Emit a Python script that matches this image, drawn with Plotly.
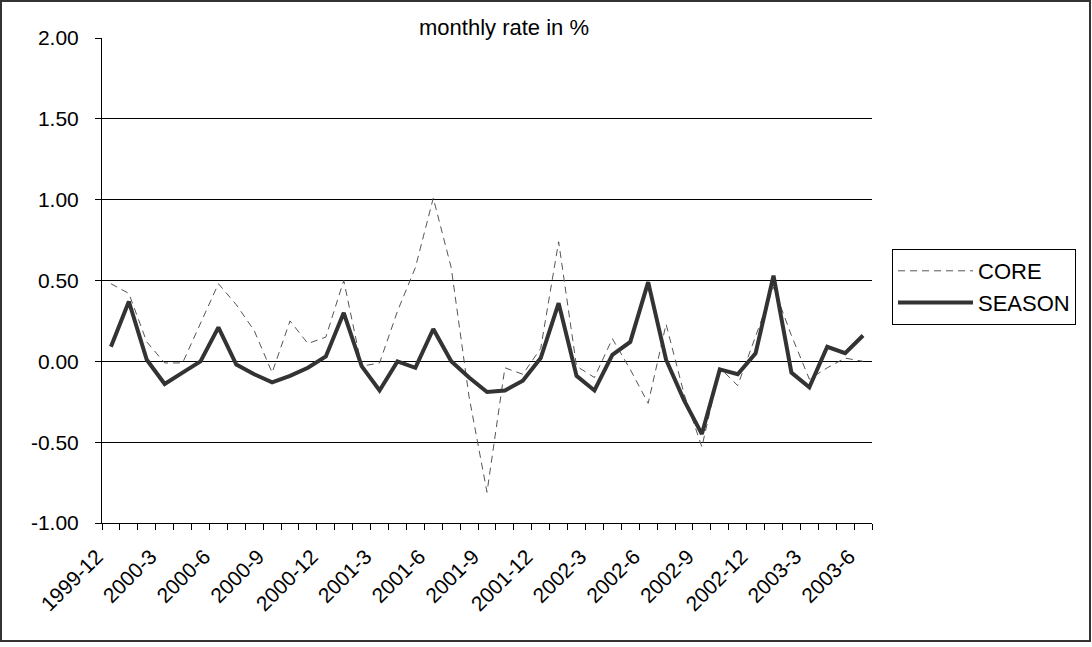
import plotly.graph_objects as go

months = ["1999-12"] + [f"{y}-{m}" for y in (2000, 2001, 2002) for m in range(1, 13)] + [f"2003-{m}" for m in range(1, 7)]

core = [0.48, 0.42, 0.12, -0.01, -0.01, 0.24, 0.48, 0.35, 0.19, -0.07,
        0.25, 0.11, 0.15, 0.50, -0.03, -0.01, 0.31, 0.58, 1.01, 0.58,
        -0.22, -0.81, -0.04, -0.08, 0.08, 0.74, -0.03, -0.10, 0.14, -0.05,
        -0.26, 0.23, -0.20, -0.53, -0.04, -0.15, 0.16, 0.46, 0.16, -0.11,
        -0.04, 0.02, 0.00]

season = [0.09, 0.37, 0.01, -0.14, -0.07, 0.00, 0.21, -0.02, -0.08, -0.13,
          -0.09, -0.04, 0.03, 0.30, -0.03, -0.18, 0.00, -0.04, 0.20, 0.00,
          -0.10, -0.19, -0.18, -0.12, 0.02, 0.36, -0.09, -0.18, 0.04, 0.12,
          0.49, 0.01, -0.24, -0.45, -0.05, -0.08, 0.05, 0.53, -0.07, -0.16,
          0.09, 0.05, 0.16]

title_text = "monthly rate in %"
y_ticks = [-1.0, -0.5, 0.0, 0.5, 1.0, 1.5, 2.0]
y_tick_text = [f"{v:.2f}" for v in y_ticks]

idx = list(range(len(months)))
label_idx = idx[::3]
label_txt = [months[i] for i in label_idx]

FONT = "Liberation Sans, Arial, sans-serif"
W, H = 1092, 647
L, R, T, B = 102, 220, 38, 124
pw, ph = W - L - R, H - T - B

fig = go.Figure()
fig.add_trace(go.Scatter(x=idx, y=core, name="CORE", mode="lines",
                         line=dict(color="#555555", width=1, dash="7px,5px")))
fig.add_trace(go.Scatter(x=idx, y=season, name="SEASON", mode="lines",
                         line=dict(color="#333333", width=4)))

fig.update_layout(
    width=W, height=H,
    margin=dict(l=L, r=R, t=T, b=B, pad=0),
    paper_bgcolor="white", plot_bgcolor="white",
    font=dict(family=FONT, size=21, color="black"),
    title=dict(text=title_text, x=504 / W, xanchor="center", xref="container",
               y=1 - 27 / H, yanchor="middle", yref="container",
               font=dict(family=FONT, size=22, color="black")),
    showlegend=True,
    legend=dict(x=(892 - L) / pw, y=1 - (249 - T) / ph, xanchor="left", yanchor="top",
                bordercolor="black", borderwidth=1, bgcolor="white",
                font=dict(family=FONT, size=22, color="black"),
                tracegroupgap=0, itemwidth=75),
)

fig.update_xaxes(
    range=[-0.5, len(months) - 0.5],
    tickmode="array", tickvals=label_idx, ticktext=label_txt,
    tickangle=-45, ticks="", showgrid=False, zeroline=False,
    showline=True, linecolor="black", linewidth=1,
    tickfont=dict(family=FONT, size=21, color="black"),
    ticklabelstandoff=12, ticklabelshift=-14,
    minor=dict(tickmode="linear", tick0=-0.5, dtick=1, ticks="outside",
               ticklen=6, tickcolor="black", tickwidth=1, showgrid=False),
)
fig.update_yaxes(
    range=[-1.0, 2.0], tickmode="array", tickvals=y_ticks, ticktext=y_tick_text,
    ticks="outside", ticklen=6, tickcolor="black",
    showgrid=True, gridcolor="black", gridwidth=1, zeroline=False,
    showline=True, linecolor="black", linewidth=1,
    tickfont=dict(family=FONT, size=21, color="black"),
    ticklabelstandoff=12,
)

# outer chart border
fig.add_shape(type="rect", xref="paper", yref="paper",
              x0=(1 - L) / pw, x1=(1090 - L) / pw,
              y0=1 - (641 - T) / ph, y1=1 - (1 - T) / ph,
              line=dict(color="#333333", width=2), fillcolor="rgba(0,0,0,0)", layer="below")

fig.write_html("out.html",
               config={"displayModeBar": False},
               post_script="document.body.style.margin='0';document.body.style.overflow='hidden';")
